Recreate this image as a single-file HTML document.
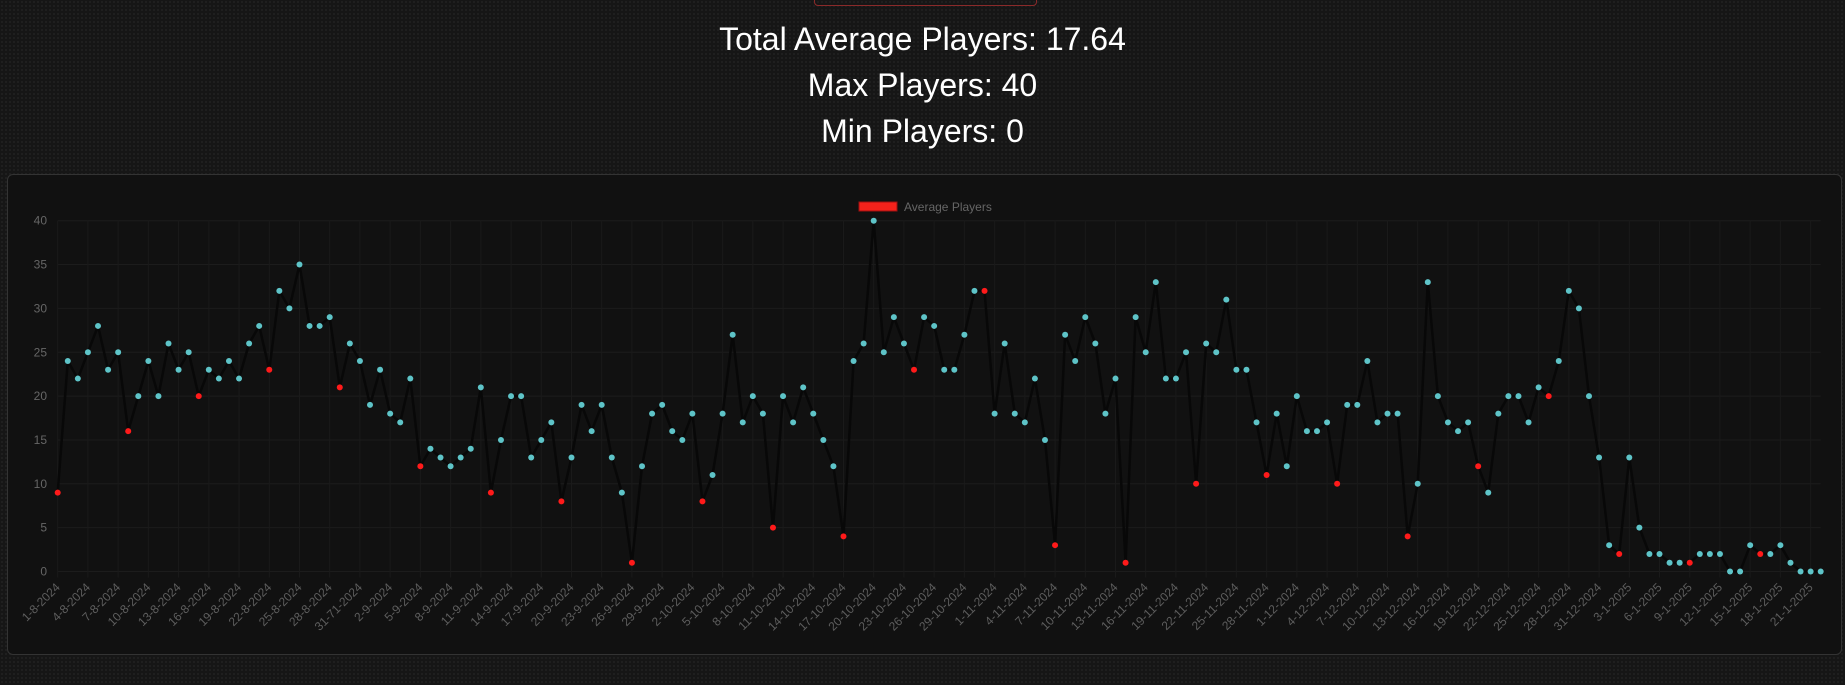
<!DOCTYPE html>
<html><head><meta charset="utf-8"><style>
html,body{margin:0;padding:0;}
body{width:1845px;height:685px;overflow:hidden;background:#161616;background-image:radial-gradient(#222 1px,transparent 1px);background-size:4px 4px;font-family:"Liberation Sans",sans-serif;position:relative;}
.topbox{position:absolute;left:814px;top:-10px;width:221px;height:14px;border:1px solid #8a2a2a;border-radius:4px;}
.stat{position:absolute;left:0;width:1845px;text-align:center;color:#fff;font-size:32px;}
.card{position:absolute;left:7px;top:174px;width:1833px;height:479px;background:#111;border:1px solid #333;border-radius:6px;}
svg{position:absolute;left:0;top:0;}
</style></head><body>
<div class="topbox"></div>
<div class="stat" style="top:21px">Total Average Players: 17.64</div>
<div class="stat" style="top:67px">Max Players: 40</div>
<div class="stat" style="top:113px">Min Players: 0</div>
<div class="card"></div>
<svg id="chart" width="1845" height="685"></svg>
<script>
const values = [9,24,22,25,28,23,25,16,20,24,20,26,23,25,20,23,22,24,22,26,28,23,32,30,
35,28,28,29,21,26,24,19,23,18,17,22,12,14,13,12,13,14,21,9,15,20,20,13,15,17,
8,13,19,16,19,13,9,1,12,18,19,16,15,18,8,11,18,27,17,20,18,5,20,17,21,
18,15,12,4,24,26,40,25,29,26,23,29,28,23,23,27,32,32,18,26,18,17,22,15,3,27,
24,29,26,18,22,1,29,25,33,22,22,25,10,26,25,31,23,23,17,11,18,12,20,16,16,17,
10,19,19,24,17,18,18,4,10,33,20,17,16,17,12,9,18,20,20,17,21,20,24,32,30,20,
13,3,2,13,5,2,2,1,1,1,2,2,2,0,0,3,2,2,3,1,0,0,0];
const highlighted = [0,7,14,21,28,36,43,50,57,64,71,78,85,92,99,106,113,120,127,134,141,148,155,162,169];
const tickLabels = ["1-8-2024","4-8-2024","7-8-2024","10-8-2024","13-8-2024","16-8-2024","19-8-2024","22-8-2024","25-8-2024","28-8-2024","31-71-2024",
"2-9-2024","5-9-2024","8-9-2024","11-9-2024","14-9-2024","17-9-2024","20-9-2024","23-9-2024","26-9-2024","29-9-2024",
"2-10-2024","5-10-2024","8-10-2024","11-10-2024","14-10-2024","17-10-2024","20-10-2024","23-10-2024","26-10-2024","29-10-2024",
"1-11-2024","4-11-2024","7-11-2024","10-11-2024","13-11-2024","16-11-2024","19-11-2024","22-11-2024","25-11-2024","28-11-2024",
"1-12-2024","4-12-2024","7-12-2024","10-12-2024","13-12-2024","16-12-2024","19-12-2024","22-12-2024","25-12-2024","28-12-2024","31-12-2024",
"3-1-2025","6-1-2025","9-1-2025","12-1-2025","15-1-2025","18-1-2025","21-1-2025"];
const yTicks = [0,5,10,15,20,25,30,35,40];
const tickEvery = 3;

const svg = document.getElementById('chart');
const NS = 'http://www.w3.org/2000/svg';
const X0 = 57.7, X1 = 1820.7, Y0 = 571.5, Y40 = 220.7;
const yMax = 40;
function xs(i){ return X0 + (X1 - X0) * i / (values.length - 1); }
function ys(v){ return Y0 - (Y0 - Y40) * v / yMax; }
function mk(tag, attrs){ const e = document.createElementNS(NS, tag); for (const k in attrs) e.setAttribute(k, attrs[k]); svg.appendChild(e); return e; }

yTicks.forEach(t => {
  const g = mk('line', {x1: X0, x2: X1, y1: ys(t), y2: ys(t), stroke: '#1c1c1c', 'stroke-width': 1});
  
  
  const tx = mk('text', {x: 47, y: ys(t) + 4, 'text-anchor': 'end', 'font-size': 12, fill: '#666', 'font-family': 'Liberation Sans, sans-serif'});
  tx.textContent = t;
  
  
});
tickLabels.forEach((lab, k) => {
  const x = xs(k * tickEvery);
  const g = mk('line', {x1: x, x2: x, y1: Y40, y2: Y0 + 6, stroke: '#1a1a1a', 'stroke-width': 1});
  
  
  const tx = mk('text', {x: x + 3, y: 588, 'text-anchor': 'end', 'font-size': 12, fill: '#5e5e5e', 'font-family': 'Liberation Sans, sans-serif', transform: `rotate(-45 ${x + 3} 588)`});
  tx.textContent = lab;
  
  
});
const pts = values.map((v, i) => xs(i).toFixed(1) + ',' + ys(v).toFixed(1)).join(' ');
const line = mk('polyline', {points: pts, fill: 'none', stroke: '#080808', 'stroke-width': 2.5, 'stroke-linejoin': 'round'});


values.forEach((v, i) => {
  const c = mk('circle', {cx: xs(i), cy: ys(v), r: 3, fill: highlighted.includes(i) ? '#ff1a1a' : '#5ec4c8'});
  
  
});
const lb = mk('rect', {x: 859, y: 202, width: 38, height: 9, fill: '#f5221b', stroke: '#a01010', 'stroke-width': 1});


const lt = mk('text', {x: 904, y: 211, 'font-size': 12, fill: '#666', 'font-family': 'Liberation Sans, sans-serif'});
lt.textContent = 'Average Players';


</script>
</body></html>
